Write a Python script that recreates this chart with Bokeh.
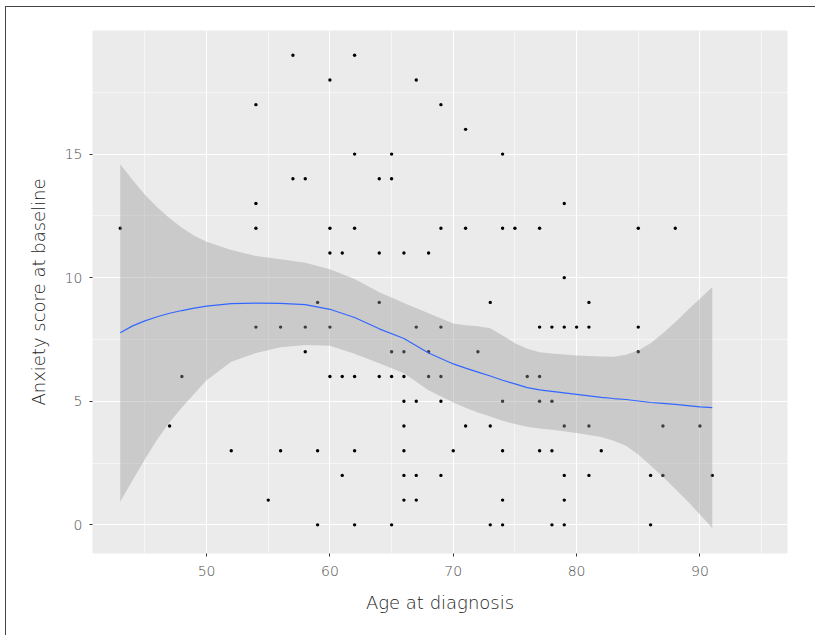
from bokeh.plotting import figure
from bokeh.models import Range1d, FixedTicker
from bokeh.embed import file_html
from bokeh.resources import INLINE

# ---- data ----
age = [43, 47, 48, 52, 54, 54, 54, 54, 55, 56, 56, 57, 57, 58, 58, 58, 59, 59, 59,
       60, 60, 60, 60, 60, 61, 61, 61, 62, 62, 62, 62, 62, 62, 64, 64, 64, 64,
       65, 65, 65, 65, 65, 66, 66, 66, 66, 66, 66, 66, 66, 67, 67, 67, 67, 67,
       68, 68, 68, 69, 69, 69, 69, 69, 69, 70, 71, 71, 71, 72, 73, 73, 73,
       74, 74, 74, 74, 74, 74, 75, 76, 77, 77, 77, 77, 77, 78, 78, 78, 78,
       79, 79, 79, 79, 79, 79, 79, 80, 81, 81, 81, 81, 82, 85, 85, 85, 86, 86,
       87, 87, 88, 90, 91]
anxiety = [12, 4, 6, 3, 17, 13, 12, 8, 1, 8, 3, 19, 14, 14, 8, 7, 9, 3, 0,
           18, 12, 11, 8, 6, 11, 6, 2, 19, 15, 12, 6, 3, 0, 14, 11, 9, 6,
           15, 14, 7, 6, 0, 11, 7, 6, 5, 4, 3, 2, 1, 18, 8, 5, 2, 1,
           11, 7, 6, 17, 12, 8, 6, 5, 2, 3, 16, 12, 4, 7, 9, 4, 0,
           15, 12, 5, 3, 1, 0, 12, 6, 12, 8, 6, 5, 3, 8, 5, 3, 0,
           13, 10, 8, 4, 2, 1, 0, 8, 9, 8, 4, 2, 3, 12, 8, 7, 2, 0,
           4, 2, 12, 4, 2]

# loess smooth and its confidence band
smooth_x = [43, 44, 45, 46, 47, 48, 49, 50, 52, 54, 56, 58, 60, 62, 64, 66, 68,
            70, 71, 72, 73, 74, 75, 76, 77, 78, 80, 82, 83, 84, 85, 86, 87,
            88, 89, 90, 91]
smooth_y = [7.77, 8.05, 8.25, 8.42, 8.56, 8.67, 8.77, 8.85, 8.95, 8.97, 8.96,
            8.91, 8.72, 8.39, 7.93, 7.54, 6.95, 6.51, 6.34, 6.18, 6.02, 5.85,
            5.70, 5.55, 5.46, 5.40, 5.28, 5.16, 5.11, 5.07, 5.01, 4.95, 4.91,
            4.87, 4.82, 4.77, 4.74]
band_upper = [14.59, 13.95, 13.35, 12.85, 12.40, 12.02, 11.70, 11.45, 11.12,
              10.88, 10.74, 10.60, 10.34, 9.95, 9.41, 8.97, 8.56, 8.15, 8.07,
              8.03, 7.95, 7.66, 7.35, 7.12, 6.98, 6.93, 6.85, 6.81, 6.80, 6.88,
              7.05, 7.35, 7.75, 8.20, 8.68, 9.15, 9.62]
band_lower = [0.93, 1.80, 2.65, 3.45, 4.15, 4.75, 5.30, 5.85, 6.60, 6.95, 7.18,
              7.28, 7.25, 6.92, 6.54, 6.13, 5.44, 4.95, 4.74, 4.54, 4.38, 4.21,
              4.08, 3.97, 3.90, 3.85, 3.72, 3.55, 3.40, 3.20, 2.85, 2.40, 1.95,
              1.45, 0.95, 0.42, -0.13]

x_ticks = [50, 60, 70, 80, 90]
x_minor = [45, 55, 65, 75, 85, 95]
y_ticks = [0, 5, 10, 15]
y_minor = [2.5, 7.5, 12.5, 17.5]

FONT = "DejaVu Sans Light, DejaVu Sans"

p = figure(width=810, height=629, output_backend="svg", toolbar_location=None,
           x_range=Range1d(40.75, 97.1), y_range=Range1d(-1.16, 20.0),
           min_border_left=86, min_border_right=29, min_border_top=23,
           min_border_bottom=83)
p.margin = (6, 0, 0, 5)
p.styles = {"border-top": "1px solid #444444", "border-left": "1px solid #444444"}

p.background_fill_color = "#EBEBEB"
p.border_fill_color = "white"
p.outline_line_color = None

p.xaxis.ticker = FixedTicker(ticks=x_ticks, minor_ticks=x_minor)
p.yaxis.ticker = FixedTicker(ticks=y_ticks, minor_ticks=y_minor)

for g in (p.xgrid, p.ygrid):
    g.grid_line_color = "white"
    g.grid_line_width = 1.1
    g.minor_grid_line_color = "white"
    g.minor_grid_line_width = 0.55

for ax in (p.xaxis, p.yaxis):
    ax.axis_line_color = None
    ax.major_tick_line_color = "#333333"
    ax.major_tick_out = 3
    ax.major_tick_in = 0
    ax.minor_tick_line_color = None
    ax.major_label_text_font = FONT
    ax.major_label_text_font_size = "14px"
    ax.major_label_text_color = "#4D4D4D"
    ax.axis_label_text_font = FONT
    ax.axis_label_text_font_size = "18px"
    ax.axis_label_text_font_style = "normal"
    ax.axis_label_text_color = "#222222"

p.xaxis.axis_label = "Age at diagnosis"
p.yaxis.axis_label = "Anxiety score at baseline"
p.xaxis.major_label_standoff = 8
p.yaxis.major_label_standoff = 6
p.xaxis.axis_label_standoff = 13
p.yaxis.axis_label_standoff = 13

p.scatter(age, anxiety, size=3.4, color="black", line_color=None)
p.varea(x=smooth_x, y1=band_lower, y2=band_upper, fill_color="#999999",
        fill_alpha=0.4)
p.line(smooth_x, smooth_y, line_color="#3366FF", line_width=1.2)

open("out.html", "w").write(file_html(p, INLINE))
